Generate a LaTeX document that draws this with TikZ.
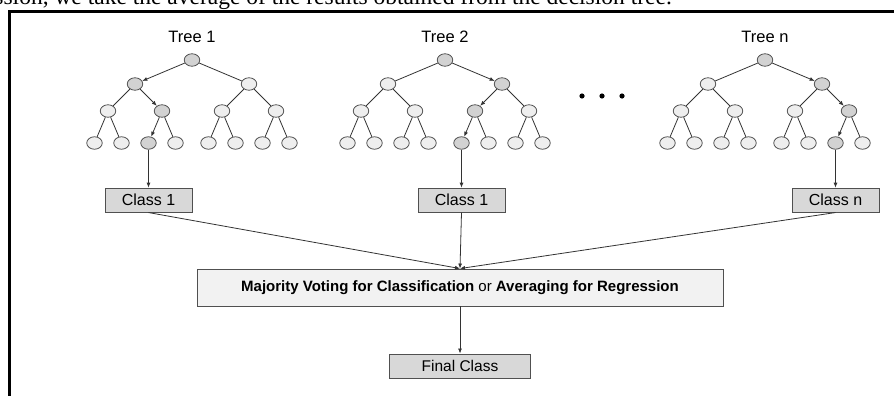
\documentclass[tikz,border=0pt]{standalone}
\usepackage{fontspec}
\setmainfont{Liberation Sans}
\newfontfamily\bookfont{Liberation Serif}
\usetikzlibrary{shapes.geometric, arrows.meta, positioning}
\definecolor{nodegray}{RGB}{210, 210, 210}
\definecolor{nodelight}{RGB}{238, 238, 238}
\definecolor{rimgray}{RGB}{80, 80, 80}
\definecolor{boxgray}{RGB}{216, 216, 216}
\definecolor{boxlight}{RGB}{242, 242, 242}

\tikzset{
  leaf/.style={ellipse, draw=rimgray, fill=nodelight, line width=0.8pt, minimum width=15.5pt, minimum height=12.5pt, inner sep=0pt},
  hit/.style={leaf, fill=nodegray},
  link/.style={draw=black!80, line width=0.8pt},
  hop/.style={-{Latex[length=5pt, width=4pt]}},
  classbox/.style={draw=rimgray, fill=boxgray, line width=0.9pt, minimum width=87pt, minimum height=24pt, inner sep=0pt, font=\fontsize{16}{19}\selectfont},
}

\begin{document}
\begin{tikzpicture}[x=1pt, y=-1pt]
  \useasboundingbox (0,0) rectangle (894,396);
  \clip (0,0) rectangle (894,396);

  % Page text and frame
  \node[anchor=base east, inner sep=0pt, font=\bookfont\fontsize{23.5}{26}\selectfont] (lead) at (672,4.5) {regression, we take the average of the results obtained from the decision tree.};
  \draw[line width=3pt] (9.5,420) -- (9.5,11.5) -- (910,11.5);

  % Voting and result
  \node[draw=rimgray, fill=boxlight, line width=0.9pt, minimum width=526pt, minimum height=37pt, inner sep=0pt, font=\fontsize{15}{18}\selectfont] (vote) at (460,287.5) {\textbf{Majority Voting for Classification} or \textbf{Averaging for Regression}};
  \node[classbox, minimum width=141pt, font=\fontsize{15.5}{18}\selectfont] (final) at (460,366) {Final Class};
  \draw[link, hop] (vote) -- (final);

  % Trees
  \foreach \t/\rx/\pa/\pb/\pc/\tn/\cn in {A/192/1/2/3/1/Class 1, B/445/2/3/5/2/Class 1, C/765/2/4/7/n/Class n} {
    \node[font=\fontsize{16.5}{19}\selectfont] (\t-title) at (\rx,37) {Tree \tn};
    \node[hit] (\t-0) at (\rx,60) {};
    \foreach \i in {1,2} {
      \ifnum\i=\pa\relax \def\sty{hit}\def\edg{hop}\else \def\sty{leaf}\def\edg{}\fi
      \pgfmathsetmacro\xx{\rx+(2*\i-3)*57}
      \node[\sty] (\t-1-\i) at (\xx,84) {};
      \draw[link, \edg] (\t-0) -- (\t-1-\i);
    }
    \foreach \j in {1,...,4} {
      \pgfmathtruncatemacro\p{(\j+1)/2}
      \ifnum\j=\pb\relax \def\sty{hit}\def\edg{hop}\else \def\sty{leaf}\def\edg{}\fi
      \pgfmathsetmacro\xx{\rx+(2*\p-3)*57+(1-2*mod(\j,2))*27}
      \node[\sty] (\t-2-\j) at (\xx,111) {};
      \draw[link, \edg] (\t-1-\p) -- (\t-2-\j);
    }
    \foreach \k in {1,...,8} {
      \pgfmathtruncatemacro\p{(\k+1)/2}
      \pgfmathtruncatemacro\pp{(\p+1)/2}
      \ifnum\k=\pc\relax \def\sty{hit}\def\edg{hop}\else \def\sty{leaf}\def\edg{}\fi
      \pgfmathsetmacro\xx{\rx+(2*\pp-3)*57+(1-2*mod(\p,2))*27+(1-2*mod(\k,2))*13.5}
      \node[\sty] (\t-3-\k) at (\xx,143) {};
      \draw[link, \edg] (\t-2-\p) -- (\t-3-\k);
    }
    \node[classbox, below=38pt of \t-3-\pc] (\t-class) {\cn};
    \draw[link, hop] (\t-3-\pc) -- (\t-class);
    \draw[link, hop] (\t-class.south) -- (vote.north);
  }

  % Ellipsis between trees
  \foreach \dx in {582,602,622} \fill (\dx,96) circle (2.6pt);
\end{tikzpicture}
\end{document}
